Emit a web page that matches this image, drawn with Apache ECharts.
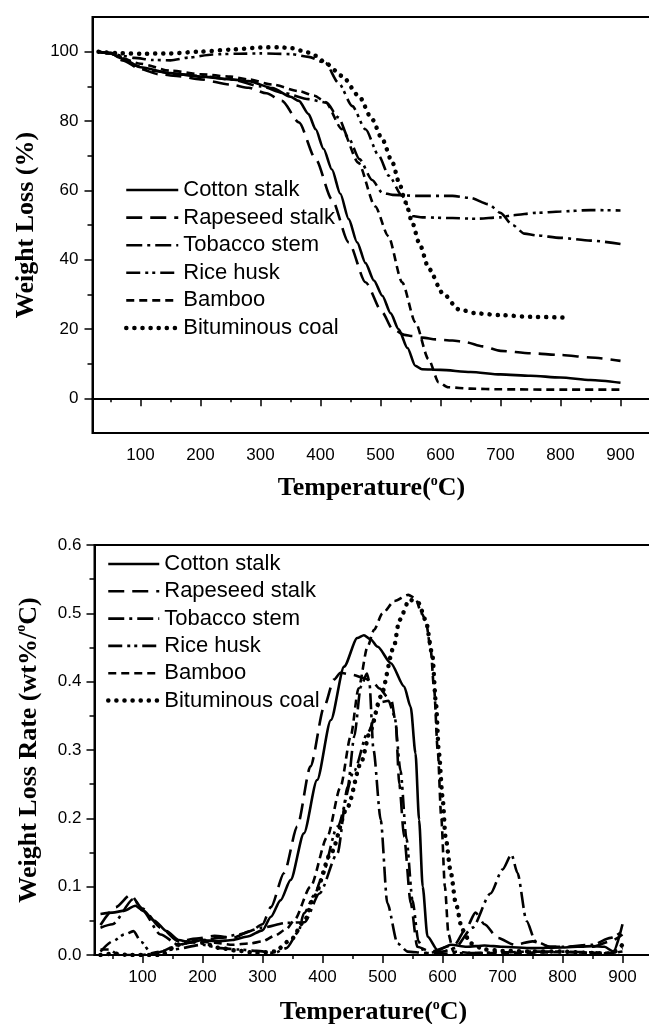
<!DOCTYPE html>
<html>
<head>
<meta charset="utf-8">
<script src="https://cdn.jsdelivr.net/npm/echarts@6/dist/echarts.min.js"></script>
<style>
  html, body { margin: 0; padding: 0; background: #fff; }
  #main { width: 649px; height: 1024px; }
</style>
</head>
<body>
<div id="main"></div>
<script>
// series names (legend order)
var names = ['Cotton stalk', 'Rapeseed stalk', 'Tobacco stem', 'Rice husk', 'Bamboo', 'Bituminous coal'];

// ---- TG curves: [temperature, weight %] ----
var cottonTG = [[30,100],[50,99.5],[70,98],[100,95.5],[150,93.8],[200,92.8],[250,92],[280,91.5],[320,89.5],[350,87],[364,85.8],[380,82],[392,77.6],[405,72],[419,66],[433,59],[447,51.7],[461,45],[475,39],[489,34],[503,29.6],[517,24.5],[530,20],[545,14.5],[558,9.4],[569,8.4],[600,8.2],[650,7.6],[700,6.9],[750,6.5],[800,6],[850,5.3],[900,4.5]];
var rapeseedTG = [[30,100],[50,99.5],[70,97.5],[100,95],[130,93.5],[160,93],[200,92],[250,90.5],[280,89.6],[310,88],[336,85.8],[364,79.6],[392,69],[419,57.4],[447,45],[475,33.5],[503,24.8],[520,20],[540,18.3],[553,18],[570,17.5],[592,17],[620,16.7],[642,16.2],[670,15],[700,13.7],[750,13],[800,12.5],[850,11.8],[900,10.8]];
var tobaccoTG = [[30,100],[50,99.7],[70,98.5],[90,96],[120,94.5],[160,93.5],[200,93],[250,92],[300,90],[340,88],[380,86.3],[410,85.3],[430,81],[447,75],[465,69],[486,63],[503,59.3],[520,58.7],[560,58.4],[620,58.4],[650,57.8],[680,56],[700,53.5],[720,50],[740,47.5],[760,47],[800,46.3],[850,45.5],[900,44.5]];
var riceTG = [[30,100],[50,99.6],[70,98.8],[90,98.2],[120,97.6],[150,97.5],[180,98.3],[220,99.2],[260,99.4],[300,99.5],[350,99.3],[380,98.5],[408,96.8],[430,91],[453,84.3],[475,77.6],[497,70],[514,64.2],[536,58.4],[553,52.6],[570,52.2],[620,52],[660,51.8],[700,52.2],[720,52.8],[760,53.5],[800,53.9],[850,54.3],[900,54.2]];
var bambooTG = [[30,100],[50,99.5],[70,98],[100,96.5],[150,94.5],[200,93.5],[250,92.8],[280,92],[320,90.5],[364,88.6],[390,87.3],[408,85.5],[436,77.6],[463,68],[491,55.4],[513,46.8],[536,33.5],[558,22],[580,11.3],[597,4.6],[613,3.2],[650,2.8],[700,2.6],[800,2.5],[900,2.5]];
var coalTG = [[30,100],[60,99.6],[100,99.4],[150,99.5],[200,100],[250,100.6],[300,101.2],[330,101.3],[352,101],[375,100],[392,98.8],[410,96.5],[436,93],[464,87.2],[486,80.5],[503,74.7],[520,68],[531,62.2],[542,56.5],[553,50.7],[564,45],[581,37.3],[603,30.5],[630,25.7],[660,24.5],[700,24],[750,23.5],[805,23.3]];

// ---- DTG curves: [temperature, wt%/oC] ----
var cottonDTG = [[30,0.06],[50,0.062],[70,0.065],[88,0.072],[100,0.066],[120,0.05],[140,0.035],[160,0.022],[180,0.018],[200,0.022],[225,0.02],[250,0.022],[275,0.027],[300,0.036],[314,0.056],[330,0.08],[347,0.11],[369,0.178],[391,0.256],[414,0.344],[436,0.422],[458,0.464],[469,0.468],[480,0.462],[492,0.451],[514,0.427],[536,0.393],[547,0.363],[555,0.295],[561,0.198],[567,0.1],[575,0.027],[592,0.007],[614,0.015],[640,0.012],[670,0.014],[700,0.012],[750,0.01],[800,0.011],[850,0.013],[870,0.012],[885,0.005],[900,0.045]];
var rapeseedDTG = [[30,0.044],[55,0.07],[80,0.088],[100,0.068],[130,0.04],[160,0.02],[190,0.024],[220,0.028],[250,0.025],[280,0.035],[300,0.045],[314,0.07],[336,0.12],[358,0.188],[380,0.276],[403,0.364],[419,0.403],[430,0.413],[450,0.41],[470,0.405],[485,0.398],[495,0.39],[510,0.376],[515,0.372],[522,0.34],[528,0.25],[536,0.173],[547,0.076],[558,0.012],[580,0.005],[620,0.015],[640,0.04],[655,0.062],[670,0.045],[692,0.025],[720,0.015],[750,0.02],[780,0.012],[800,0.012],[850,0.012],[880,0.02],[900,0.03]];
var tobaccoDTG = [[30,0.04],[50,0.045],[85,0.082],[100,0.065],[130,0.03],[160,0.015],[200,0.022],[230,0.025],[260,0.03],[300,0.04],[340,0.047],[370,0.048],[395,0.09],[425,0.149],[442,0.246],[453,0.32],[464,0.393],[474,0.412],[478,0.4],[485,0.3],[497,0.198],[508,0.076],[525,0.017],[542,0.005],[570,0.003],[600,0.005],[620,0.01],[650,0.04],[680,0.09],[700,0.125],[715,0.147],[725,0.12],[740,0.05],[755,0.02],[780,0.012],[800,0.012],[850,0.015],[880,0.025],[900,0.035]];
var riceDTG = [[30,0.005],[50,0.02],[70,0.03],[85,0.035],[98,0.019],[115,0.002],[150,0.008],[200,0.015],[230,0.01],[260,0.008],[290,0.006],[320,0.003],[340,0.01],[360,0.034],[369,0.061],[388,0.09],[397,0.11],[425,0.188],[453,0.27],[475,0.325],[497,0.37],[510,0.372],[520,0.35],[530,0.27],[540,0.17],[550,0.08],[560,0.02],[570,0.003],[600,0.002],[650,0.003],[700,0.004],[750,0.005],[800,0.005],[850,0.004],[880,0.002],[900,0.01]];
var bambooDTG = [[30,0.008],[45,0.008],[60,0.0],[100,0.0],[130,0.005],[160,0.015],[190,0.02],[220,0.018],[250,0.015],[280,0.017],[300,0.02],[320,0.028],[340,0.038],[353,0.051],[380,0.1],[408,0.173],[430,0.246],[447,0.32],[460,0.39],[475,0.451],[486,0.476],[500,0.5],[520,0.518],[543,0.527],[555,0.522],[565,0.5],[572,0.49],[580,0.45],[586,0.39],[592,0.3],[598,0.2],[604,0.1],[610,0.03],[618,0.005],[650,0.003],[700,0.003],[800,0.004],[880,0.003],[900,0.005]];
var coalDTG = [[30,0.0],[50,0.002],[80,0.0],[130,0.0],[160,0.015],[180,0.02],[200,0.018],[230,0.01],[260,0.006],[290,0.003],[320,0.005],[347,0.022],[370,0.05],[386,0.085],[414,0.149],[442,0.217],[464,0.281],[480,0.329],[497,0.378],[519,0.451],[528,0.49],[545,0.52],[560,0.515],[572,0.49],[583,0.44],[589,0.369],[594,0.296],[600,0.232],[605,0.173],[614,0.12],[622,0.076],[633,0.037],[647,0.017],[670,0.008],[700,0.006],[750,0.005],[800,0.005],[850,0.003],[880,0.002],[900,0.015]];

// tick positions
var xMajor = [100,200,300,400,500,600,700,800,900];
var xMinor = [50,150,250,350,450,550,650,750,850];
var tgMajor = [0,20,40,60,80,100];
var tgMinor = [10,30,50,70,90];
var dtgMajor = [0,0.1,0.2,0.3,0.4,0.5,0.6];
var dtgMinor = [0.05,0.15,0.25,0.35,0.45,0.55];

var tgSets = [cottonTG, rapeseedTG, tobaccoTG, riceTG, bambooTG, coalTG];
var dtgSets = [cottonDTG, rapeseedDTG, tobaccoDTG, riceDTG, bambooDTG, coalDTG];

var styles = [
    {type: 'solid', width: 2.6},
    {type: [16, 8], width: 2.6},
    {type: [16, 5, 3, 5], width: 2.6},
    {type: [14, 5, 3, 4, 3, 5], width: 2.6},
    {type: [8, 5], width: 2.6},
    {type: [0.1, 8], width: 4.5, cap: 'round'}
];

var sans = "'Liberation Sans', Arial, sans-serif";
var serif = "'Liberation Serif', 'Times New Roman', serif";
var titleRich = {
    sup: {fontSize: 14, fontWeight: 'bold', fontFamily: serif, color: '#000', padding: [0, 0, 15, 0]}
};

function mainX(grid, name, gap) {
    return {
        type: 'value', gridIndex: grid, position: 'bottom', min: 20, max: 950,
        name: name, nameLocation: 'middle', nameGap: gap,
        nameTextStyle: {fontFamily: serif, fontWeight: 'bold', fontSize: 26, color: '#000', rich: titleRich},
        axisLine: {lineStyle: {color: '#000', width: 2}},
        axisTick: {inside: false, length: 8, lineStyle: {color: '#000', width: 1.5}, customValues: xMajor},
        axisLabel: {fontFamily: sans, fontSize: 17, color: '#000', margin: 14, customValues: xMajor},
        splitLine: {show: false}
    };
}
function minorX(grid) {
    return {
        type: 'value', gridIndex: grid, position: 'bottom', min: 20, max: 950,
        axisLine: {show: false},
        axisTick: {length: 4, lineStyle: {color: '#000', width: 1.5}, customValues: xMinor},
        axisLabel: {show: false}, splitLine: {show: false}
    };
}
function legendAt(left, top, gap, iw) {
    return {
        orient: 'vertical', left: left, top: top, padding: 0, itemGap: gap,
        itemWidth: iw, itemHeight: 14, data: names,
        itemStyle: {opacity: 0},
        lineStyle: {width: 'inherit'},
        textStyle: {fontFamily: sans, fontSize: 22, color: '#000'}
    };
}

var option = {
    animation: false,
    backgroundColor: '#fff',
    grid: [
        {left: 92.5, top: 17, width: 558, height: 416, show: true, borderColor: '#000', borderWidth: 2, outerBoundsMode: 'none'},
        {left: 94.5, top: 545, width: 558, height: 410, show: true, borderColor: '#000', borderWidth: 2, outerBoundsMode: 'none'}
    ],
    legend: [legendAt(124, 179, 5.6, 52), legendAt(106, 553, 5.3, 51)],
    xAxis: [
        mainX(0, 'Temperature({sup|o}C)', 41), minorX(0),
        mainX(1, 'Temperature({sup|o}C)', 43), minorX(1)
    ],
    yAxis: [
        {
            type: 'value', gridIndex: 0, position: 'left', min: -10, max: 110,
            name: 'Weight Loss (%)', nameLocation: 'middle', nameGap: 46,
            nameTextStyle: {fontFamily: serif, fontWeight: 'bold', fontSize: 26, color: '#000'},
            axisLine: {lineStyle: {color: '#000', width: 2}},
            axisTick: {length: 8, lineStyle: {color: '#000', width: 1.5}, customValues: tgMajor},
            axisLabel: {fontFamily: sans, fontSize: 17, color: '#000', margin: 14, customValues: tgMajor},
            splitLine: {show: false}
        },
        {
            type: 'value', gridIndex: 0, position: 'left', min: -10, max: 110,
            axisLine: {show: false},
            axisTick: {length: 5, lineStyle: {color: '#000', width: 1.5}, customValues: tgMinor},
            axisLabel: {show: false}, splitLine: {show: false}
        },
        {
            type: 'value', gridIndex: 1, position: 'left', min: 0, max: 0.6,
            name: 'Weight Loss Rate (wt%/{sup|o}C)', nameLocation: 'middle', nameGap: 51,
            nameTextStyle: {fontFamily: serif, fontWeight: 'bold', fontSize: 26, color: '#000', rich: titleRich},
            axisLine: {lineStyle: {color: '#000', width: 2}},
            axisTick: {length: 8, lineStyle: {color: '#000', width: 1.5}, customValues: dtgMajor},
            axisLabel: {
                fontFamily: sans, fontSize: 17, color: '#000', margin: 13, customValues: dtgMajor,
                formatter: function (v) { return v.toFixed(1); }
            },
            splitLine: {show: false}
        },
        {
            type: 'value', gridIndex: 1, position: 'left', min: 0, max: 0.6,
            axisLine: {show: false},
            axisTick: {length: 5, lineStyle: {color: '#000', width: 1.5}, customValues: dtgMinor},
            axisLabel: {show: false}, splitLine: {show: false}
        }
    ],
    series: []
};

names.forEach(function (n, i) {
    var ls = Object.assign({color: '#000'}, styles[i]);
    option.series.push({
        name: n, type: 'line', xAxisIndex: 0, yAxisIndex: 0,
        data: tgSets[i], symbol: 'none', smooth: 0.25, smoothMonotone: 'x',
        lineStyle: ls, itemStyle: {color: '#000'}
    });
});
names.forEach(function (n, i) {
    var ls = Object.assign({color: '#000'}, styles[i]);
    option.series.push({
        name: n, type: 'line', xAxisIndex: 2, yAxisIndex: 2,
        data: dtgSets[i], symbol: 'none', smooth: 0.25, smoothMonotone: 'x',
        lineStyle: ls, itemStyle: {color: '#000'}
    });
});

var myChart = echarts.init(document.getElementById('main'), null, {renderer: 'canvas'});
myChart.setOption(option);
</script>
</body>
</html>
